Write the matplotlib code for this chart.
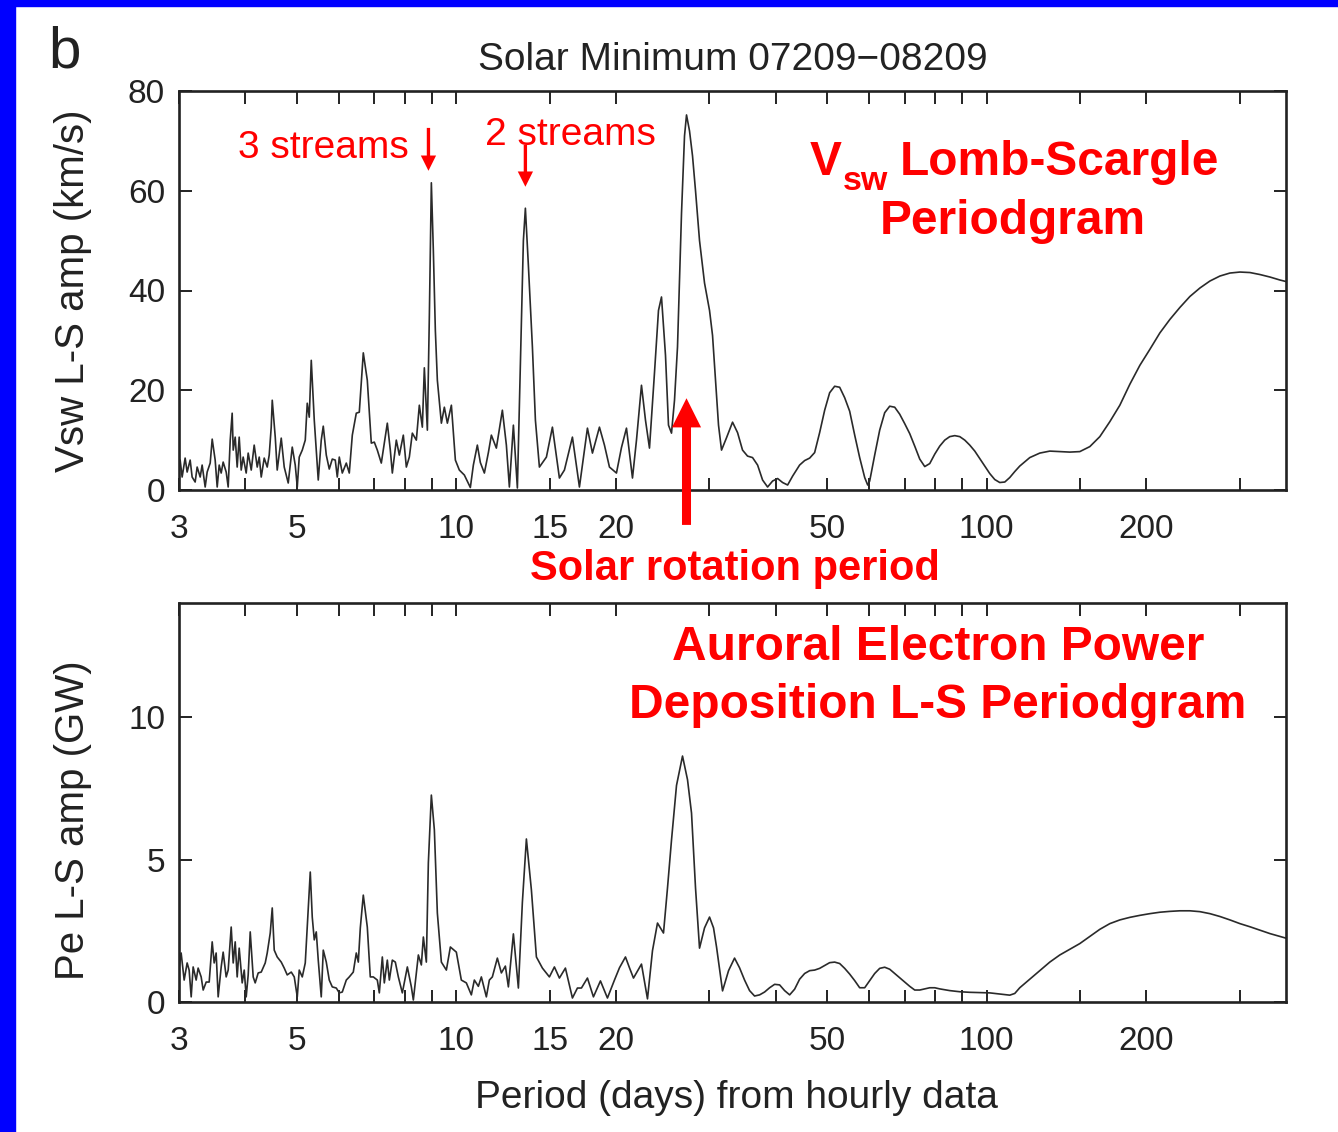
import matplotlib
matplotlib.use('Agg')
import matplotlib.pyplot as plt
from matplotlib.ticker import FixedLocator, FixedFormatter, NullLocator
from matplotlib.patches import Rectangle

# ---------------------------------------------------------------------------
# Lomb-Scargle amplitude spectra, solar minimum 07209-08209 (hourly data)
# period in days, amplitude in km/s (Vsw) and GW (Pe)
# ---------------------------------------------------------------------------
vsw_period = [
    3.0, 3.015, 3.041, 3.081, 3.108, 3.149, 3.176, 3.218, 3.246, 3.289, 3.317,
    3.361, 3.390, 3.435, 3.465, 3.510, 3.541, 3.572, 3.603, 3.634, 3.682, 3.714,
    3.747, 3.779, 3.796, 3.829, 3.862, 3.896, 3.930, 3.964, 4.016, 4.051, 4.105,
    4.158, 4.213, 4.250, 4.287, 4.343, 4.400, 4.438, 4.477, 4.497, 4.556, 4.595,
    4.676, 4.737, 4.820, 4.905, 4.969, 5.013, 5.056, 5.123, 5.190, 5.235, 5.281,
    5.327, 5.397, 5.444, 5.491, 5.563, 5.612, 5.686, 5.760, 5.836, 5.912, 5.964,
    6.016, 6.095, 6.202, 6.283, 6.366, 6.477, 6.562, 6.677, 6.794, 6.913, 7.004,
    7.096, 7.220, 7.315, 7.411, 7.508, 7.574, 7.706, 7.808, 7.944, 8.049, 8.154,
    8.261, 8.406, 8.516, 8.628, 8.703, 8.818, 8.895, 8.972, 9.050, 9.129, 9.209,
    9.371, 9.493, 9.618, 9.787, 9.958, 10.131, 10.354, 10.627, 10.767, 10.955,
    11.099, 11.294, 11.492, 11.642, 11.897, 12.212, 12.426, 12.589, 12.810,
    13.034, 13.205, 13.378, 13.495, 13.672, 13.912, 14.095, 14.342, 14.785,
    15.175, 15.643, 15.987, 16.552, 17.063, 17.667, 18.055, 18.612, 19.021,
    19.439, 20.039, 20.479, 20.929, 21.482, 21.859, 22.338, 22.730, 23.128,
    23.636, 24.050, 24.366, 24.793, 25.118, 25.448, 25.782, 26.120, 26.578,
    26.927, 27.162, 27.518, 27.879, 28.245, 28.740, 29.371, 30.016, 30.410,
    30.810, 31.210, 31.620, 32.320, 33.170, 33.900, 34.640, 35.400, 36.180,
    36.980, 37.790, 38.620, 39.470, 40.340, 41.220, 42.130, 43.060, 44.380,
    45.360, 46.360, 47.370, 48.410, 49.480, 50.560, 51.670, 52.810, 53.970,
    55.150, 56.370, 57.600, 58.870, 59.640, 60.160, 61.480, 62.830, 64.210,
    65.620, 67.060, 68.530, 70.040, 71.580, 73.150, 74.760, 76.400, 78.080,
    79.800, 81.540, 83.330, 85.160, 87.040, 88.950, 90.900, 92.890, 94.940,
    97.020, 99.150, 101.31, 103.54, 105.81, 108.14, 110.51, 112.94, 115.41,
    120.54, 125.89, 131.48, 137.32, 143.42, 149.78, 156.43, 163.38, 170.63,
    178.21, 186.12, 194.39, 203.02, 212.04, 221.45, 231.28, 241.55, 252.28,
    263.48, 275.18, 287.40, 300.16, 313.49, 327.41, 341.95, 357.13, 366.6,
]
vsw_amp = [
    5.0, 6.0, 2.6, 6.4, 3.6, 6.0, 2.6, 1.6, 4.6, 2.6, 5.0,
    0.6, 3.6, 5.4, 10.2, 6.0, 0.6, 5.0, 3.4, 5.6, 3.6, 0.6,
    10.0, 15.4, 8.0, 10.6, 4.6, 10.6, 4.0, 6.6, 3.4, 7.4, 4.0,
    9.0, 4.6, 6.6, 2.6, 6.4, 4.6, 7.0, 12.6, 18.0, 10.6, 4.0,
    10.4, 4.6, 1.4, 8.6, 5.0, 0.6, 6.6, 8.0, 10.0, 17.4, 14.6,
    26.0, 14.0, 8.0, 2.0, 10.0, 12.8, 7.0, 4.2, 6.2, 6.0, 2.6,
    6.6, 3.4, 5.4, 3.4, 11.0, 15.4, 15.6, 27.5, 22.0, 9.4, 9.6,
    8.0, 5.4, 9.4, 13.4, 8.0, 3.4, 10.0, 7.0, 11.0, 4.6, 6.6,
    11.4, 10.0, 17.0, 12.6, 24.5, 12.0, 35.0, 61.6, 48.0, 32.0, 22.0,
    13.4, 16.6, 13.4, 17.0, 6.0, 4.0, 3.0, 0.5, 5.0, 9.0,
    5.5, 3.4, 7.5, 11.0, 8.4, 16.0, 9.0, 0.6, 13.0,
    0.4, 25.0, 50.0, 56.5, 45.0, 28.7, 14.0, 4.6, 6.6,
    12.6, 2.4, 4.0, 10.6, 0.6, 12.4, 7.4, 12.6, 9.0,
    4.6, 3.4, 8.5, 12.4, 2.4, 10.0, 21.0, 14.0, 8.4,
    23.5, 36.0, 38.7, 27.0, 13.0, 11.4, 18.0, 28.7, 55.5,
    71.0, 75.2, 72.0, 67.0, 60.0, 50.0, 41.5, 36.0, 31.0,
    22.0, 13.0, 8.0, 10.5, 13.6, 11.5, 8.0, 6.8, 6.5,
    5.0, 2.0, 0.6, 1.8, 2.3, 1.5, 1.0, 2.8, 5.0,
    5.9, 6.4, 7.5, 11.5, 16.0, 19.5, 20.8, 20.6, 18.5,
    15.8, 11.0, 6.5, 2.5, 1.0, 1.8, 7.0, 12.0, 15.5,
    16.8, 16.6, 15.2, 13.3, 11.3, 8.8, 6.2, 4.7, 5.3,
    7.2, 8.8, 10.0, 10.7, 10.9, 10.7, 10.0, 9.0, 7.8,
    6.3, 4.8, 3.3, 2.1, 1.5, 1.6, 2.5, 3.7, 4.8,
    6.5, 7.4, 7.8, 7.7, 7.6, 7.7, 8.7, 10.7, 13.7,
    17.0, 21.2, 25.0, 28.2, 31.5, 34.2, 36.6, 38.8, 40.5,
    41.9, 42.9, 43.5, 43.7, 43.6, 43.2, 42.7, 42.1, 41.8,
]

pe_period = [
    3.0, 3.028, 3.068, 3.108, 3.135, 3.163, 3.190, 3.232, 3.260, 3.303, 3.332,
    3.376, 3.420, 3.465, 3.495, 3.525, 3.556, 3.603, 3.634, 3.682, 3.714, 3.763,
    3.796, 3.829, 3.862, 3.896, 3.947, 3.982, 4.016, 4.051, 4.087, 4.140, 4.176,
    4.231, 4.287, 4.362, 4.400, 4.458, 4.497, 4.536, 4.595, 4.676, 4.737, 4.799,
    4.884, 4.948, 5.013, 5.056, 5.123, 5.190, 5.235, 5.304, 5.350, 5.397, 5.444,
    5.491, 5.563, 5.612, 5.686, 5.760, 5.836, 5.938, 6.016, 6.095, 6.202, 6.283,
    6.393, 6.477, 6.534, 6.591, 6.677, 6.794, 6.883, 6.974, 7.096, 7.158, 7.252,
    7.315, 7.411, 7.476, 7.574, 7.673, 7.774, 7.910, 8.084, 8.226, 8.297, 8.480,
    8.591, 8.666, 8.779, 8.856, 8.972, 9.090, 9.209, 9.371, 9.576, 9.744, 10.0,
    10.219, 10.444, 10.673, 10.813, 11.003, 11.147, 11.392, 11.541, 11.692,
    11.949, 12.159, 12.372, 12.535, 12.810, 13.091, 13.320, 13.554, 13.852,
    14.156, 14.530, 14.978, 15.307, 15.643, 16.056, 16.552, 16.916, 17.212,
    17.667, 18.133, 18.693, 19.270, 19.866, 20.302, 20.838, 21.204, 21.576,
    22.338, 22.928, 23.431, 23.946, 24.578, 25.009, 25.448, 26.007, 26.694,
    27.280, 27.758, 28.245, 28.740, 29.371, 30.016, 30.542, 30.943, 31.760,
    32.599, 33.460, 34.195, 34.946, 35.713, 36.497, 37.30, 38.12, 38.96, 39.82,
    40.69, 41.58, 42.50, 43.43, 44.38, 45.36, 46.36, 47.37, 48.41, 49.48, 50.56,
    51.67, 52.81, 53.97, 55.15, 56.37, 57.60, 58.87, 60.16, 61.48, 62.83, 64.21,
    65.62, 67.06, 68.53, 70.04, 71.58, 73.15, 74.76, 76.40, 78.08, 79.80, 81.54,
    85.16, 88.95, 92.89, 97.02, 101.31, 105.81, 110.51, 112.94, 115.41, 120.54,
    125.89, 131.48, 137.32, 143.42, 149.78, 156.43, 163.38, 170.63, 178.21,
    186.12, 194.39, 203.02, 212.04, 221.45, 231.28, 241.55, 252.28, 263.48,
    275.18, 287.40, 300.16, 313.49, 327.41, 341.95, 357.13, 366.6,
]
pe_amp = [
    1.2, 1.72, 0.77, 1.37, 1.12, 0.18, 1.23, 0.77, 1.19, 0.88, 0.42,
    0.70, 0.70, 2.11, 1.37, 1.72, 0.18, 1.23, 1.75, 0.88, 1.12, 2.63,
    1.37, 2.11, 0.88, 1.89, 0.67, 1.12, 0.18, 0.95, 2.46, 0.88, 0.67,
    1.02, 1.05, 1.37, 1.72, 2.42, 3.30, 1.82, 1.58, 1.40, 1.19, 0.95,
    1.05, 0.88, 0.18, 1.12, 0.88, 1.37, 2.63, 4.56, 2.98, 2.18, 2.46,
    1.47, 0.18, 1.82, 1.40, 0.77, 0.53, 0.49, 0.32, 0.35, 0.77, 0.88,
    1.05, 1.72, 1.40, 2.60, 3.75, 2.63, 0.88, 0.88, 0.77, 0.32, 1.58,
    0.67, 1.47, 0.77, 1.47, 1.40, 0.88, 0.32, 1.23, 0.53, 0.07, 1.65,
    1.30, 2.28, 1.40, 4.88, 7.26, 6.04, 3.12, 1.40, 1.12, 1.93, 1.75,
    0.77, 0.67, 0.25, 0.77, 0.55, 0.88, 0.18, 0.77, 0.88,
    1.54, 1.02, 1.26, 0.53, 2.39, 0.49, 3.50, 5.72, 3.93,
    1.58, 1.19, 0.88, 1.23, 0.84, 1.19, 0.14, 0.49, 0.49,
    0.84, 0.18, 0.74, 0.14, 0.77, 1.20, 1.58, 1.20, 0.84,
    1.33, 0.11, 1.80, 2.77, 2.42, 4.00, 5.68, 7.60, 8.63,
    7.80, 6.63, 4.00, 1.89, 2.60, 2.98, 2.60, 1.93, 0.39,
    1.10, 1.54, 1.20, 0.77, 0.40, 0.21, 0.25, 0.35, 0.50, 0.62,
    0.60, 0.40, 0.25, 0.45, 0.80, 1.00, 1.10, 1.12, 1.18, 1.28, 1.38,
    1.40, 1.35, 1.18, 0.98, 0.75, 0.50, 0.50, 0.75, 1.00, 1.18, 1.22,
    1.15, 1.00, 0.85, 0.70, 0.55, 0.42, 0.42, 0.46, 0.50, 0.50, 0.46,
    0.40, 0.36, 0.34, 0.33, 0.32, 0.28, 0.24, 0.30, 0.50, 0.80,
    1.10, 1.40, 1.65, 1.85, 2.05, 2.30, 2.55, 2.75, 2.88,
    2.97, 3.04, 3.10, 3.15, 3.18, 3.20, 3.20, 3.17, 3.10,
    3.00, 2.88, 2.75, 2.64, 2.52, 2.40, 2.30, 2.24,
]

tick_periods = [3, 4, 5, 6, 7, 8, 9, 10, 15, 20, 30, 40, 50, 60, 70, 80, 90,
                100, 150, 200, 300]
tick_labels = ['3', '', '5', '', '', '', '', '10', '15', '20', '', '', '50',
               '', '', '', '', '100', '', '200', '']

# figure is laid out in pixels
W, H = 1338, 1132
RED = '#FF0000'
INK = '#222222'


def fx(px):
    return px / W


def fy(py):
    return 1 - py / H


def rect(l, t, r, b):
    return [fx(l), fy(b), (r - l) / W, (b - t) / H]


plt.rcParams['font.family'] = ['Liberation Sans', 'DejaVu Sans']

fig = plt.figure(figsize=(W / 100, H / 100), dpi=100)
fig.patch.set_facecolor('white')

# blue slide frame
fig.patches.append(Rectangle((0, fy(6)), 1, 6 / H, transform=fig.transFigure,
                             color='#0000FF', zorder=0))
fig.patches.append(Rectangle((0, 0), 15 / W, 1, transform=fig.transFigure,
                             color='#0000FF', zorder=0))

ax1 = fig.add_axes(rect(179, 91, 1286, 490))
ax2 = fig.add_axes(rect(179, 603, 1286, 1002))

ax1.plot(vsw_period, vsw_amp, color='#2a2a2a', lw=1.2)
ax2.plot(pe_period, pe_amp, color='#2a2a2a', lw=1.2)

ax1.set_ylim(0, 80)
ax1.set_yticks([0, 20, 40, 60, 80])
ax2.set_ylim(0, 14)
ax2.set_yticks([0, 5, 10])

for ax in (ax1, ax2):
    ax.set_xscale('log')
    ax.set_xlim(3, 366.6)
    ax.xaxis.set_major_locator(FixedLocator(tick_periods))
    ax.xaxis.set_major_formatter(FixedFormatter(tick_labels))
    ax.xaxis.set_minor_locator(NullLocator())
    ax.tick_params(which='major', direction='in', top=True, right=True,
                   length=9, width=1.4, color=INK, labelsize=24,
                   labelcolor=INK)
    ax.tick_params(axis='x', pad=17)
    ax.tick_params(axis='y', pad=10)
    for s in ax.spines.values():
        s.set_linewidth(1.9)
        s.set_color(INK)

ax1.set_title('Solar Minimum 07209\u221208209', fontsize=28, color=INK, pad=15)
ax1.set_ylabel('Vsw L-S amp (km/s)', fontsize=29, color=INK)
ax1.yaxis.set_label_coords(-0.079, 0.5)
ax2.set_ylabel('Pe L-S amp (GW)', fontsize=29, color=INK)
ax2.yaxis.set_label_coords(-0.079, 0.456)
ax2.set_xlabel('Period (days) from hourly data', fontsize=28, color=INK)
ax2.xaxis.set_label_coords(0.504, -0.195)

fig.text(fx(48), fy(68), 'b', fontsize=42, color=INK, va='baseline')

# stream annotations on the Vsw spectrum
thin = dict(arrowstyle='simple,head_length=11,head_width=11,tail_width=2.4',
            mutation_scale=1, color=RED, lw=0, shrinkA=0, shrinkB=0)
ax1.annotate('', xy=(8.86, 64.0), xytext=(8.86, 72.6), arrowprops=thin)
ax1.annotate('', xy=(13.495, 60.8), xytext=(13.495, 69.2), arrowprops=thin)
fig.text(fx(238), fy(158), '3 streams', fontsize=28, color=RED, va='baseline')
fig.text(fx(485), fy(145), '2 streams', fontsize=28, color=RED, va='baseline')

thick = dict(arrowstyle='simple,head_length=21,head_width=21,tail_width=6.5',
             mutation_scale=1, color=RED, lw=0, shrinkA=0, shrinkB=0)
ax1.annotate('', xy=(27.16, 18.4), xytext=(27.16, -7.0), arrowprops=thick,
             annotation_clip=False)
fig.text(fx(735), fy(580), 'Solar rotation period', fontsize=30,
         fontweight='bold', color=RED, ha='center', va='baseline')

# panel captions
bold = dict(fontweight='bold', color=RED, va='baseline')
fig.text(fx(810), fy(175), 'V', fontsize=34.5, **bold)
fig.text(fx(843), fy(190), 'sw', fontsize=24.5, **bold)
fig.text(fx(900), fy(175), 'Lomb-Scargle', fontsize=34.5, **bold)
fig.text(fx(1013), fy(234), 'Periodgram', fontsize=34.5, ha='center', **bold)
fig.text(fx(938), fy(660), 'Auroral Electron Power', fontsize=34.5,
         ha='center', **bold)
fig.text(fx(938), fy(718), 'Deposition L-S Periodgram', fontsize=34.5,
         ha='center', **bold)

fig.savefig('out.png', dpi=100)
